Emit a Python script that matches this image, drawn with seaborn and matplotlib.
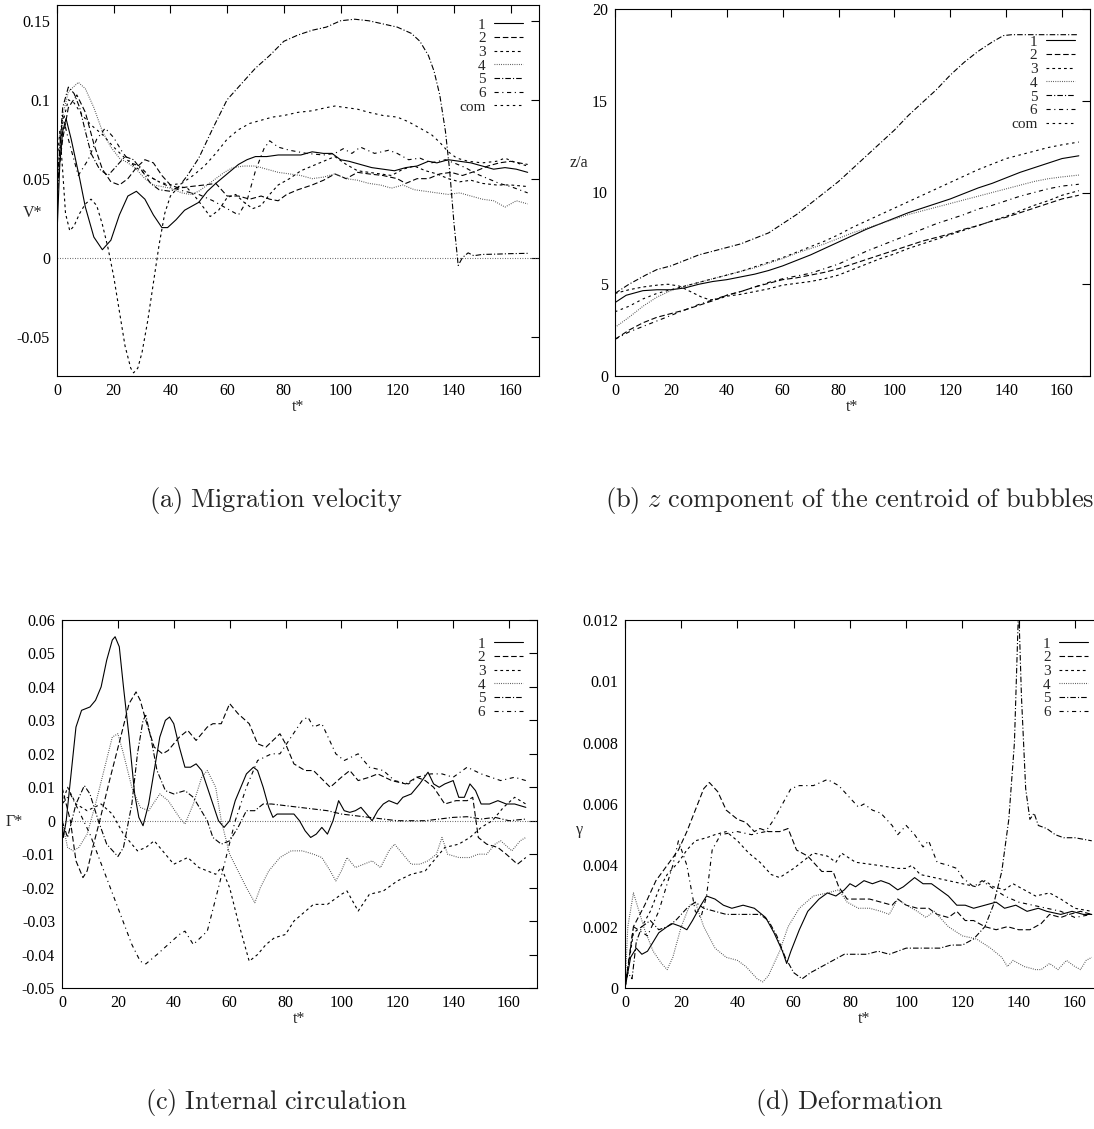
import matplotlib
matplotlib.use("Agg")
import matplotlib.pyplot as plt
import seaborn as sns

# ---------------- data: (t*, value) pairs ----------------
X_TICKS = [0, 20, 40, 60, 80, 100, 120, 140, 160]
X_TICK_LABELS = ["0", "20", "40", "60", "80", "100", "120", "140", "160"]

# (a) migration velocity V*
VEL_TICKS = [-0.05, 0, 0.05, 0.1, 0.15]
VEL_TICK_LABELS = ["-0.05", "0", "0.05", "0.1", "0.15"]
VEL_1 = [(0, 0.015), (1, 0.06), (2, 0.08), (3.2, 0.088), (5, 0.075), (8, 0.05), (10, 0.032), (13, 0.013),
         (16, 0.005), (19, 0.011), (22, 0.027), (25, 0.039), (28, 0.042), (31, 0.037), (34, 0.027), (37, 0.019),
         (39, 0.019), (42, 0.024), (45, 0.03), (48, 0.033), (50, 0.035), (53, 0.042), (56, 0.047), (60, 0.053),
         (64, 0.059), (67, 0.062), (70, 0.064), (74, 0.064), (78, 0.065), (82, 0.065), (86, 0.065), (90, 0.067),
         (94, 0.066), (97, 0.066), (100, 0.062), (103, 0.061), (107, 0.059), (111, 0.057), (115, 0.056),
         (119, 0.055), (123, 0.057), (127, 0.058), (131, 0.061), (134, 0.06), (138, 0.062), (142, 0.061),
         (146, 0.06), (150, 0.058), (154, 0.056), (158, 0.057), (162, 0.056), (166, 0.054)]
VEL_2 = [(0, 0.045), (2, 0.075), (4, 0.095), (7, 0.103), (10, 0.092), (13, 0.072), (16, 0.056), (19, 0.048),
         (22, 0.046), (25, 0.05), (28, 0.057), (31, 0.062), (34, 0.06), (37, 0.052), (40, 0.046), (43, 0.044),
         (47, 0.045), (52, 0.046), (56, 0.047), (58, 0.043), (60, 0.039), (64, 0.039), (68, 0.037), (72, 0.039),
         (75, 0.037), (78, 0.036), (81, 0.04), (85, 0.043), (90, 0.046), (94, 0.049), (98, 0.053), (102, 0.05),
         (106, 0.054), (110, 0.053), (115, 0.052), (120, 0.05), (123, 0.047), (127, 0.05), (131, 0.05),
         (135, 0.053), (139, 0.054), (143, 0.052), (148, 0.055), (152, 0.058), (156, 0.06), (160, 0.061),
         (163, 0.06), (166, 0.059)]
VEL_3 = [(0, 0.06), (1, 0.08), (2, 0.055), (3, 0.028), (4.5, 0.017), (6, 0.02), (8, 0.028), (10, 0.034),
         (12, 0.037), (14, 0.033), (16, 0.021), (18, 0.006), (20, -0.012), (22, -0.034), (24, -0.056),
         (26, -0.07), (27, -0.073), (28.5, -0.07), (30, -0.06), (32, -0.04), (34, -0.016), (36, 0.008),
         (38, 0.028), (40, 0.039), (43, 0.045), (46, 0.044), (49, 0.038), (52, 0.031), (54, 0.026), (57, 0.03),
         (60, 0.038), (63, 0.04), (66, 0.035), (69, 0.031), (72, 0.033), (75, 0.04), (78, 0.046), (82, 0.05),
         (86, 0.055), (90, 0.058), (94, 0.061), (98, 0.064), (102, 0.059), (106, 0.055), (110, 0.054),
         (114, 0.053), (118, 0.052), (122, 0.056), (126, 0.058), (130, 0.055), (134, 0.053), (138, 0.05),
         (142, 0.048), (146, 0.049), (150, 0.047), (155, 0.046), (160, 0.046), (166, 0.045)]
VEL_4 = [(0, 0.04), (2, 0.09), (4, 0.105), (7.5, 0.111), (10, 0.107), (13, 0.095), (16, 0.08), (19, 0.07),
         (22, 0.063), (25, 0.06), (28, 0.056), (31, 0.05), (34, 0.046), (37, 0.045), (40, 0.044), (44, 0.041),
         (47, 0.04), (50, 0.042), (53, 0.046), (56, 0.05), (59, 0.054), (62, 0.057), (66, 0.058), (70, 0.058),
         (74, 0.056), (78, 0.054), (82, 0.053), (86, 0.052), (90, 0.05), (94, 0.051), (98, 0.053), (102, 0.05),
         (106, 0.049), (110, 0.047), (114, 0.046), (118, 0.044), (122, 0.046), (126, 0.043), (130, 0.042),
         (134, 0.041), (138, 0.04), (142, 0.041), (146, 0.039), (150, 0.037), (154, 0.036), (158, 0.032),
         (162, 0.036), (166, 0.034)]
VEL_5 = [(0, 0.03), (1, 0.07), (2, 0.095), (4, 0.108), (6, 0.104), (8, 0.095), (10, 0.08), (12, 0.066),
         (15, 0.056), (18, 0.052), (21, 0.058), (24, 0.064), (27, 0.062), (30, 0.055), (33, 0.047), (36, 0.043),
         (40, 0.042), (43, 0.045), (46, 0.052), (50, 0.063), (55, 0.082), (60, 0.1), (65, 0.11), (70, 0.12),
         (75, 0.128), (80, 0.137), (85, 0.141), (90, 0.144), (95, 0.146), (100, 0.15), (105, 0.151), (110, 0.15),
         (115, 0.148), (120, 0.146), (125, 0.142), (128, 0.137), (131, 0.128), (133, 0.118), (135, 0.103),
         (137, 0.08), (138.5, 0.055), (140, 0.022), (141.5, -0.005), (143, 0.0), (145, 0.003), (147, 0.0012),
         (150, 0.002), (155, 0.0022), (160, 0.0025), (166, 0.0027)]
VEL_6 = [(0, 0.05), (2, 0.09), (4, 0.075), (7.5, 0.052), (11, 0.062), (14, 0.075), (17, 0.082), (20, 0.076),
         (23, 0.067), (26, 0.06), (29, 0.058), (33, 0.051), (37, 0.047), (41, 0.044), (45, 0.042), (50, 0.04),
         (55, 0.036), (60, 0.031), (64, 0.027), (67, 0.036), (70, 0.055), (73, 0.069), (75, 0.074), (78, 0.07),
         (82, 0.068), (88, 0.066), (94, 0.065), (98, 0.066), (101, 0.069), (104, 0.066), (107, 0.07),
         (112, 0.066), (117, 0.068), (120, 0.066), (124, 0.062), (128, 0.063), (132, 0.06), (137, 0.062),
         (140, 0.06), (144, 0.057), (148, 0.053), (152, 0.05), (156, 0.047), (160, 0.045), (163, 0.043),
         (166, 0.041)]
VEL_COM = [(0, 0.05), (2, 0.085), (4, 0.1), (6, 0.098), (9, 0.09), (12, 0.084), (16, 0.078), (20, 0.07),
           (24, 0.063), (28, 0.057), (32, 0.052), (36, 0.048), (40, 0.046), (44, 0.047), (48, 0.052),
           (52, 0.058), (56, 0.066), (60, 0.075), (64, 0.081), (68, 0.085), (72, 0.087), (76, 0.089), (80, 0.09),
           (85, 0.092), (90, 0.093), (95, 0.095), (98, 0.096), (102, 0.095), (106, 0.094), (110, 0.092),
           (115, 0.09), (120, 0.089), (124, 0.086), (128, 0.082), (132, 0.078), (135, 0.073), (138, 0.067),
           (141, 0.063), (145, 0.061), (150, 0.06), (155, 0.061), (158, 0.063), (162, 0.06), (166, 0.058)]

# (b) z/a of the bubble centroids
Z_TICKS = [0, 5, 10, 15, 20]
Z_TICK_LABELS = ["0", "5", "10", "15", "20"]
Z_1 = [(0, 4.0), (4, 4.4), (10, 4.65), (15, 4.7), (20, 4.7), (25, 4.8), (30, 5.0), (35, 5.15), (40, 5.25),
       (45, 5.4), (50, 5.55), (55, 5.75), (60, 6.0), (65, 6.3), (70, 6.6), (75, 6.95), (80, 7.3), (85, 7.65),
       (90, 8.0), (95, 8.3), (100, 8.6), (105, 8.9), (110, 9.15), (115, 9.4), (120, 9.65), (125, 9.95),
       (130, 10.25), (135, 10.5), (140, 10.8), (145, 11.1), (150, 11.35), (155, 11.6), (160, 11.85), (166, 12.0)]
Z_2 = [(0, 2.0), (5, 2.5), (10, 2.9), (15, 3.2), (20, 3.4), (25, 3.6), (30, 3.85), (35, 4.1), (40, 4.4),
       (45, 4.6), (50, 4.85), (55, 5.05), (60, 5.25), (65, 5.35), (70, 5.5), (75, 5.65), (80, 5.85), (85, 6.1),
       (90, 6.35), (95, 6.6), (100, 6.85), (105, 7.1), (110, 7.35), (115, 7.55), (120, 7.75), (125, 8.0),
       (130, 8.2), (135, 8.45), (140, 8.65), (145, 8.9), (150, 9.15), (155, 9.4), (160, 9.65), (166, 9.85)]
Z_3 = [(0, 4.5), (5, 4.7), (10, 4.85), (15, 4.95), (19, 5.0), (23, 4.9), (27, 4.6), (31, 4.3), (34, 4.15),
       (37, 4.2), (40, 4.35), (45, 4.45), (50, 4.6), (55, 4.75), (60, 4.95), (65, 5.05), (70, 5.15), (75, 5.3),
       (80, 5.5), (85, 5.8), (90, 6.1), (95, 6.4), (100, 6.65), (105, 6.95), (110, 7.2), (115, 7.45),
       (120, 7.7), (125, 7.95), (130, 8.2), (135, 8.45), (140, 8.7), (145, 9.0), (150, 9.3), (155, 9.55),
       (160, 9.85), (166, 10.1)]
Z_4 = [(0, 2.65), (5, 3.2), (10, 3.8), (15, 4.3), (20, 4.65), (25, 4.9), (30, 5.1), (35, 5.3), (40, 5.5),
       (45, 5.7), (50, 5.9), (55, 6.15), (60, 6.4), (65, 6.7), (70, 6.95), (75, 7.2), (80, 7.5), (85, 7.8),
       (90, 8.05), (95, 8.3), (100, 8.55), (105, 8.8), (110, 9.0), (115, 9.2), (120, 9.4), (125, 9.6),
       (130, 9.8), (135, 10.0), (140, 10.2), (145, 10.4), (150, 10.6), (155, 10.75), (160, 10.85), (166, 10.95)]
Z_5 = [(0, 4.5), (5, 5.0), (11, 5.5), (15, 5.8), (20, 6.0), (25, 6.3), (30, 6.6), (35, 6.8), (40, 7.0),
       (45, 7.2), (50, 7.5), (55, 7.8), (60, 8.3), (65, 8.8), (70, 9.4), (75, 10.0), (80, 10.6), (85, 11.3),
       (90, 12.0), (95, 12.7), (100, 13.4), (105, 14.2), (110, 14.9), (115, 15.6), (120, 16.4), (125, 17.1),
       (130, 17.7), (135, 18.2), (139, 18.55), (142, 18.6), (166, 18.6)]
Z_6 = [(0, 2.0), (5, 2.4), (10, 2.7), (15, 3.0), (20, 3.3), (25, 3.6), (30, 3.9), (35, 4.15), (40, 4.4),
       (45, 4.6), (50, 4.85), (55, 5.1), (60, 5.3), (65, 5.45), (70, 5.6), (75, 5.85), (80, 6.1), (85, 6.45),
       (90, 6.8), (95, 7.1), (100, 7.4), (105, 7.7), (110, 8.0), (115, 8.3), (120, 8.55), (125, 8.8),
       (130, 9.1), (135, 9.3), (140, 9.55), (145, 9.8), (150, 10.0), (155, 10.2), (160, 10.35), (166, 10.45)]
Z_COM = [(0, 3.5), (5, 3.8), (10, 4.2), (15, 4.5), (20, 4.7), (25, 4.9), (30, 5.1), (35, 5.3), (40, 5.5),
         (45, 5.7), (50, 5.95), (55, 6.2), (60, 6.45), (65, 6.75), (70, 7.05), (75, 7.35), (80, 7.7),
         (85, 8.1), (90, 8.45), (95, 8.8), (100, 9.15), (105, 9.5), (110, 9.85), (115, 10.2), (120, 10.55),
         (125, 10.9), (130, 11.25), (135, 11.55), (140, 11.85), (145, 12.05), (150, 12.25), (155, 12.45),
         (160, 12.6), (166, 12.75)]

# (c) internal circulation Gamma*
G_TICKS = [-0.05, -0.04, -0.03, -0.02, -0.01, 0, 0.01, 0.02, 0.03, 0.04, 0.05, 0.06]
G_TICK_LABELS = ["-0.05", "-0.04", "-0.03", "-0.02", "-0.01", "0", "0.01", "0.02", "0.03", "0.04", "0.05", "0.06"]
G_1 = [(0, 0.0), (0.5, -0.005), (1.5, 0.0), (3, 0.012), (5, 0.028), (7, 0.033), (10, 0.034), (12, 0.036),
       (14, 0.04), (16, 0.048), (18, 0.054), (19, 0.055), (20.5, 0.052), (22, 0.04), (24, 0.025), (26, 0.008),
       (27.5, 0.001), (29, -0.0015), (31, 0.005), (33, 0.015), (35, 0.025), (37, 0.03), (38.5, 0.031),
       (40, 0.029), (42, 0.022), (44, 0.016), (46, 0.016), (48, 0.017), (50, 0.015), (52, 0.01), (54, 0.005),
       (56, 0.0), (58, -0.002), (60, 0.0), (62, 0.006), (64, 0.01), (66, 0.014), (68.5, 0.016), (70, 0.015),
       (72, 0.01), (74, 0.004), (75.5, 0.001), (77, 0.002), (80, 0.002), (83, 0.002), (85, 0.0), (87, -0.003),
       (89, -0.005), (91, -0.004), (93, -0.002), (95, -0.004), (97, 0.0), (99, 0.006), (101, 0.003),
       (103, 0.0025), (105, 0.003), (107, 0.004), (109, 0.002), (111, 0.0), (113, 0.003), (115, 0.005),
       (117, 0.006), (120, 0.005), (122, 0.007), (125, 0.008), (128, 0.011), (131, 0.0145), (133, 0.011),
       (135, 0.01), (137, 0.011), (140, 0.012), (142, 0.007), (144, 0.007), (146, 0.011), (148, 0.009),
       (150, 0.005), (153, 0.005), (156, 0.006), (159, 0.005), (162, 0.005), (166, 0.004)]
G_2 = [(0, 0.01), (3, 0.0), (5, -0.012), (7.5, -0.017), (9, -0.015), (11, -0.008), (13.5, 0.0), (17, 0.012),
       (21, 0.025), (24, 0.035), (26.5, 0.0385), (28, 0.036), (30, 0.03), (33, 0.022), (36, 0.02), (38, 0.021),
       (42, 0.025), (45, 0.027), (48, 0.024), (52, 0.028), (54, 0.029), (57, 0.029), (60, 0.035), (63, 0.032),
       (67, 0.029), (70, 0.023), (73, 0.022), (78, 0.026), (80, 0.023), (83, 0.017), (87, 0.015), (90, 0.015),
       (96, 0.01), (100, 0.013), (103, 0.015), (106, 0.012), (110, 0.013), (113, 0.014), (118, 0.012),
       (123, 0.011), (127, 0.013), (130, 0.012), (133, 0.01), (137, 0.005), (141, 0.006), (145, 0.006),
       (147, 0.007), (149, -0.005), (152, -0.007), (156, -0.008), (159, -0.01), (163, -0.013), (166, -0.011)]
G_3 = [(0, 0.005), (2, 0.01), (5, 0.005), (9, 0.003), (14, 0.005), (18, 0.002), (22, -0.004), (27, -0.009),
       (30, -0.008), (33, -0.006), (37, -0.01), (40, -0.013), (45, -0.011), (49, -0.014), (52, -0.015),
       (55, -0.016), (57, -0.014), (60, -0.02), (63, -0.03), (67, -0.042), (70, -0.04), (73, -0.037),
       (76, -0.035), (80, -0.034), (83, -0.03), (90, -0.025), (95, -0.025), (100, -0.022), (102, -0.021),
       (106, -0.027), (110, -0.022), (115, -0.021), (120, -0.018), (125, -0.016), (130, -0.015),
       (133, -0.012), (137, -0.008), (142, -0.007), (146, -0.005), (150, -0.002), (154, 0.0), (158, 0.004),
       (162, 0.007), (166, 0.005)]
G_4 = [(0, 0.0), (2, -0.008), (4, -0.009), (6, -0.008), (9, -0.004), (12, 0.005), (15, 0.015), (18, 0.025),
       (20, 0.026), (22, 0.02), (25, 0.01), (28, 0.004), (31, 0.003), (35, 0.008), (38, 0.006), (42, 0.001),
       (44, -0.001), (47, 0.005), (50, 0.013), (52, 0.015), (55, 0.01), (57, 0.0), (60, -0.01), (63, -0.015),
       (66, -0.02), (69, -0.0245), (71, -0.02), (74, -0.015), (78, -0.011), (82, -0.009), (86, -0.009),
       (90, -0.01), (93, -0.011), (96, -0.015), (98, -0.018), (100, -0.015), (102, -0.011), (105, -0.014),
       (108, -0.013), (111, -0.012), (114, -0.014), (117, -0.009), (119, -0.007), (122, -0.01), (125, -0.013),
       (128, -0.013), (131, -0.012), (134, -0.01), (136, -0.005), (138, -0.01), (142, -0.011), (146, -0.011),
       (149, -0.01), (152, -0.01), (155, -0.007), (157, -0.006), (161, -0.009), (164, -0.006), (166, -0.005)]
G_5 = [(0, 0.0), (2, -0.005), (5, 0.005), (8, 0.0105), (10, 0.008), (13, 0.0), (16, -0.007), (20, -0.0107),
       (22, -0.008), (25, 0.005), (27, 0.02), (29, 0.03), (30, 0.0315), (32, 0.024), (34, 0.015), (37, 0.009),
       (40, 0.008), (44, 0.009), (47, 0.007), (52, 0.0), (54, -0.005), (57, -0.007), (60, -0.006),
       (63, -0.002), (66, 0.003), (69, 0.003), (72, 0.005), (75, 0.005), (80, 0.0045), (85, 0.004),
       (90, 0.0035), (95, 0.003), (100, 0.002), (105, 0.0015), (110, 0.001), (115, 0.0005), (120, 0.0),
       (130, 0.0), (140, 0.001), (145, 0.0012), (150, 0.0005), (155, 0.001), (160, 0.0), (166, 0.0005)]
G_6 = [(0, 0.005), (3, 0.008), (6, 0.003), (10, -0.004), (15, -0.015), (20, -0.026), (25, -0.037),
       (28, -0.042), (30, -0.0428), (34, -0.04), (38, -0.037), (42, -0.034), (44, -0.033), (47, -0.037),
       (52, -0.033), (56, -0.02), (59, -0.01), (62, 0.0), (66, 0.01), (70, 0.018), (75, 0.02), (78, 0.02),
       (82, 0.025), (86, 0.03), (88, 0.031), (90, 0.028), (93, 0.029), (98, 0.02), (101, 0.018), (106, 0.02),
       (110, 0.016), (115, 0.015), (119, 0.012), (124, 0.011), (127, 0.013), (132, 0.014), (136, 0.014),
       (140, 0.013), (145, 0.016), (150, 0.014), (157, 0.012), (162, 0.013), (166, 0.012)]

# (d) deformation gamma
D_TICKS = [0, 0.002, 0.004, 0.006, 0.008, 0.01, 0.012]
D_TICK_LABELS = ["0", "0.002", "0.004", "0.006", "0.008", "0.01", "0.012"]
D_1 = [(0, 0.0), (2, 0.001), (4, 0.0013), (6, 0.0011), (8, 0.0012), (10, 0.0015), (12, 0.0018), (15, 0.002),
       (17, 0.0021), (20, 0.002), (22, 0.0019), (24, 0.0022), (27, 0.0027), (29, 0.003), (32, 0.0029),
       (35, 0.0027), (38, 0.0026), (42, 0.0027), (46, 0.0026), (50, 0.0023), (53, 0.0018), (56, 0.0012),
       (57.5, 0.0008), (59, 0.0012), (62, 0.0019), (65, 0.0025), (69, 0.0029), (72, 0.0031), (75, 0.003),
       (78, 0.0032), (80, 0.0034), (82, 0.0033), (85, 0.0035), (88, 0.0034), (91, 0.0035), (94, 0.0034),
       (97, 0.0032), (99, 0.0033), (103, 0.0036), (106, 0.0034), (109, 0.0034), (112, 0.0032), (115, 0.003),
       (118, 0.0027), (121, 0.0027), (124, 0.0026), (128, 0.0027), (132, 0.0028), (135, 0.0026),
       (139, 0.0027), (143, 0.0025), (147, 0.0026), (150, 0.0025), (155, 0.0024), (159, 0.0025),
       (163, 0.0024), (166, 0.0024)]
D_2 = [(0, 0.0), (3, 0.002), (7, 0.0027), (11, 0.0035), (15, 0.004), (19, 0.0045), (22, 0.0051), (25, 0.0058),
       (28, 0.0065), (30, 0.0067), (33, 0.0064), (36, 0.0058), (40, 0.0055), (43, 0.0054), (46, 0.0051),
       (48, 0.0052), (51, 0.0051), (55, 0.0051), (58, 0.0052), (61, 0.0045), (65, 0.0043), (70, 0.0038),
       (74, 0.0038), (76, 0.0033), (79, 0.0029), (83, 0.0029), (87, 0.0029), (91, 0.0028), (95, 0.0027),
       (97, 0.0029), (100, 0.0027), (104, 0.0026), (108, 0.0026), (111, 0.0024), (115, 0.0023),
       (118, 0.0025), (121, 0.0022), (124, 0.0022), (128, 0.002), (132, 0.0019), (136, 0.002), (140, 0.0019),
       (144, 0.0019), (148, 0.0021), (151, 0.0024), (155, 0.0023), (158, 0.0024), (162, 0.0025),
       (166, 0.0024)]
D_3 = [(0, 0.0), (3, 0.0018), (6, 0.002), (9, 0.0025), (12, 0.0032), (15, 0.0037), (19, 0.0041),
       (22, 0.0045), (25, 0.0048), (29, 0.0049), (32, 0.005), (36, 0.0051), (40, 0.0048), (44, 0.0044),
       (48, 0.0041), (52, 0.0037), (55, 0.0036), (60, 0.0039), (67, 0.0044), (72, 0.0043), (75, 0.0041),
       (77, 0.0044), (82, 0.0041), (90, 0.004), (97, 0.0039), (100, 0.0039), (102, 0.004), (105, 0.0037),
       (110, 0.0036), (115, 0.0035), (120, 0.0034), (125, 0.0033), (128, 0.0035), (131, 0.0033),
       (135, 0.0032), (138, 0.0034), (142, 0.0032), (146, 0.003), (151, 0.0031), (155, 0.0029),
       (160, 0.0026), (166, 0.0025)]
D_4 = [(0, 0.0), (1, 0.002), (3, 0.0031), (5, 0.0025), (7, 0.0019), (10, 0.0012), (13, 0.0008), (15, 0.0006),
       (17, 0.001), (20, 0.002), (23, 0.0027), (25, 0.0028), (28, 0.002), (32, 0.0013), (36, 0.001),
       (40, 0.0009), (43, 0.0007), (47, 0.0003), (49, 0.0002), (51, 0.0004), (55, 0.0012), (58, 0.002),
       (62, 0.0026), (67, 0.003), (72, 0.0031), (76, 0.0032), (79, 0.0028), (83, 0.0026), (87, 0.0026),
       (91, 0.0025), (94, 0.0024), (97, 0.0029), (100, 0.0027), (104, 0.0025), (107, 0.0023), (110, 0.0025),
       (115, 0.002), (120, 0.0017), (125, 0.0016), (130, 0.0013), (134, 0.001), (136, 0.0007),
       (138, 0.0009), (142, 0.0007), (146, 0.0006), (148, 0.0006), (151, 0.0008), (154, 0.0006),
       (157, 0.0009), (160, 0.0007), (162, 0.0006), (164, 0.0009), (166, 0.001)]
D_5 = [(0, 0.0), (1, 0.0005), (2.5, 0.0003), (4, 0.0015), (6, 0.002), (9, 0.0022), (12, 0.0019), (15, 0.002),
       (18, 0.0022), (22, 0.0026), (25, 0.0028), (28, 0.0026), (32, 0.0025), (36, 0.0024), (42, 0.0024),
       (48, 0.0024), (51, 0.0022), (54, 0.0017), (57, 0.001), (60, 0.0005), (63, 0.0003), (66, 0.0005),
       (70, 0.0007), (74, 0.0009), (78, 0.0011), (82, 0.0011), (86, 0.0011), (90, 0.0012), (94, 0.0011),
       (97, 0.0012), (100, 0.0013), (104, 0.0013), (108, 0.0013), (112, 0.0013), (116, 0.0014),
       (120, 0.0014), (124, 0.0016), (128, 0.002), (131, 0.0027), (134, 0.0038), (136.5, 0.0055),
       (138.5, 0.008), (139.5, 0.011), (140, 0.0125), (141, 0.0095), (142.5, 0.0065), (144, 0.0055),
       (145.5, 0.0057), (147, 0.0053), (150, 0.0052), (153, 0.005), (156, 0.0049), (160, 0.0049),
       (166, 0.0048)]
D_6 = [(0, 0.0), (3, 0.002), (8, 0.0017), (12, 0.0025), (17, 0.004), (19, 0.0048), (22, 0.004), (25, 0.0025),
       (27, 0.0023), (29, 0.003), (31, 0.0045), (34, 0.005), (40, 0.0051), (45, 0.005), (50, 0.0051),
       (53, 0.0055), (56, 0.006), (59, 0.0065), (62, 0.0066), (67, 0.0066), (72, 0.0068), (76, 0.0066),
       (80, 0.0062), (83, 0.0059), (85, 0.006), (88, 0.0058), (91, 0.0057), (95, 0.0053), (97, 0.005),
       (100, 0.0053), (103, 0.005), (106, 0.0046), (108, 0.0048), (111, 0.0041), (115, 0.004), (118, 0.0039),
       (120, 0.0036), (124, 0.0033), (127, 0.0035), (130, 0.0033), (135, 0.003), (140, 0.0028),
       (145, 0.0027), (150, 0.0026), (155, 0.0025), (160, 0.0023), (166, 0.0024)]

LABELS = ["1", "2", "3", "4", "5", "6", "com"]
CAPTIONS = [r"$\mathrm{(a)\ Migration\ velocity}$",
            r"$\mathrm{(b)}\ z\ \mathrm{component\ of\ the\ centroid\ of\ bubbles}$",
            r"$\mathrm{(c)\ Internal\ circulation}$",
            r"$\mathrm{(d)\ Deformation}$"]

# ---------------- styling ----------------
sns.set_theme(style="white")
plt.rcParams.update({
    "font.family": ["Liberation Serif", "DejaVu Serif"],
    "axes.unicode_minus": False,
    "lines.scale_dashes": False,
    "mathtext.fontset": "cm",
    "axes.edgecolor": "black",
    "axes.linewidth": 0.8,
})

LINE_STYLES = {
    "1": ("-", "black"),
    "2": ((0, (4.0, 2.0)), "black"),
    "3": ((0, (2.0, 2.2)), "black"),
    "4": ((0, (0.6, 1.0)), "#444444"),
    "5": ((0, (4.0, 1.5, 0.8, 1.5)), "black"),
    "6": ((0, (3.0, 2.6, 0.8, 2.6)), "black"),
    "com": ((0, (1.8, 2.6)), "black"),
}

W, H = 1094, 1129
fig = plt.figure(figsize=(W / 100, H / 100), dpi=100)


def px_axes(left, top, right, bottom):
    return fig.add_axes([left / W, 1 - bottom / H, (right - left) / W, (bottom - top) / H])


def draw_panel(ax, series, ylim, yticks, yticklabels, ylabel, ylabel_xy, legend_xy, zero_line):
    if zero_line:
        ax.axhline(0, color="#555555", lw=0.8, ls=(0, (0.6, 1.2)), zorder=1)
    for label, pts in zip(LABELS, series):
        t = [p[0] for p in pts]
        v = [p[1] for p in pts]
        ls, col = LINE_STYLES[label]
        sns.lineplot(x=t, y=v, ax=ax, color=col, linestyle=ls, lw=0.8, label=label,
                     sort=False, estimator=None)
    ax.set_xlim(0, 170)
    ax.set_ylim(*ylim)
    ax.set_xticks(X_TICKS)
    ax.set_xticklabels(X_TICK_LABELS)
    ax.set_yticks(yticks)
    ax.set_yticklabels(yticklabels)
    ax.tick_params(direction="in", top=True, right=True, length=5.5, width=0.8,
                   labelsize=11.5, pad=5, colors="black")
    for s in ax.spines.values():
        s.set_visible(True)
        s.set_color("black")
        s.set_linewidth(0.8)
    ax.set_xlabel("t*", fontsize=11.5, labelpad=0)
    ax.set_ylabel(ylabel, fontsize=11.5, rotation=0, ha="center", va="center")
    ax.yaxis.set_label_coords(*ylabel_xy)
    handles, labels = ax.get_legend_handles_labels()
    ax.legend(handles, labels, loc="upper right", bbox_to_anchor=legend_xy, frameon=False,
              markerfirst=False, fontsize=11, handlelength=1.9, handletextpad=0.55,
              labelspacing=0.0, borderpad=0, borderaxespad=0)


ax_a = px_axes(57, 5, 539, 376)
draw_panel(ax_a, [VEL_1, VEL_2, VEL_3, VEL_4, VEL_5, VEL_6, VEL_COM], (-0.075, 0.16),
           VEL_TICKS, VEL_TICK_LABELS, "V*", (-0.05, 0.44), (0.967, 0.965), True)

ax_b = px_axes(615, 9, 1090, 376)
draw_panel(ax_b, [Z_1, Z_2, Z_3, Z_4, Z_5, Z_6, Z_COM], (0, 20),
           Z_TICKS, Z_TICK_LABELS, "z/a", (-0.075, 0.58), (0.968, 0.929), False)

ax_c = px_axes(62, 620, 537, 988)
draw_panel(ax_c, [G_1, G_2, G_3, G_4, G_5, G_6], (-0.05, 0.06),
           G_TICKS, G_TICK_LABELS, "Γ*", (-0.1, 0.45), (0.97, 0.954), True)

ax_d = px_axes(625, 620, 1103, 988)
draw_panel(ax_d, [D_1, D_2, D_3, D_4, D_5, D_6], (0, 0.012),
           D_TICKS, D_TICK_LABELS, "γ", (-0.095, 0.43), (0.969, 0.954), False)

for (cx, cy), text in zip([(276, 500), (850, 500), (276, 1103), (849, 1103)], CAPTIONS):
    fig.text(cx / W, 1 - cy / H, text, ha="center", va="center", fontsize=19)

fig.savefig("out.png", dpi=100)
